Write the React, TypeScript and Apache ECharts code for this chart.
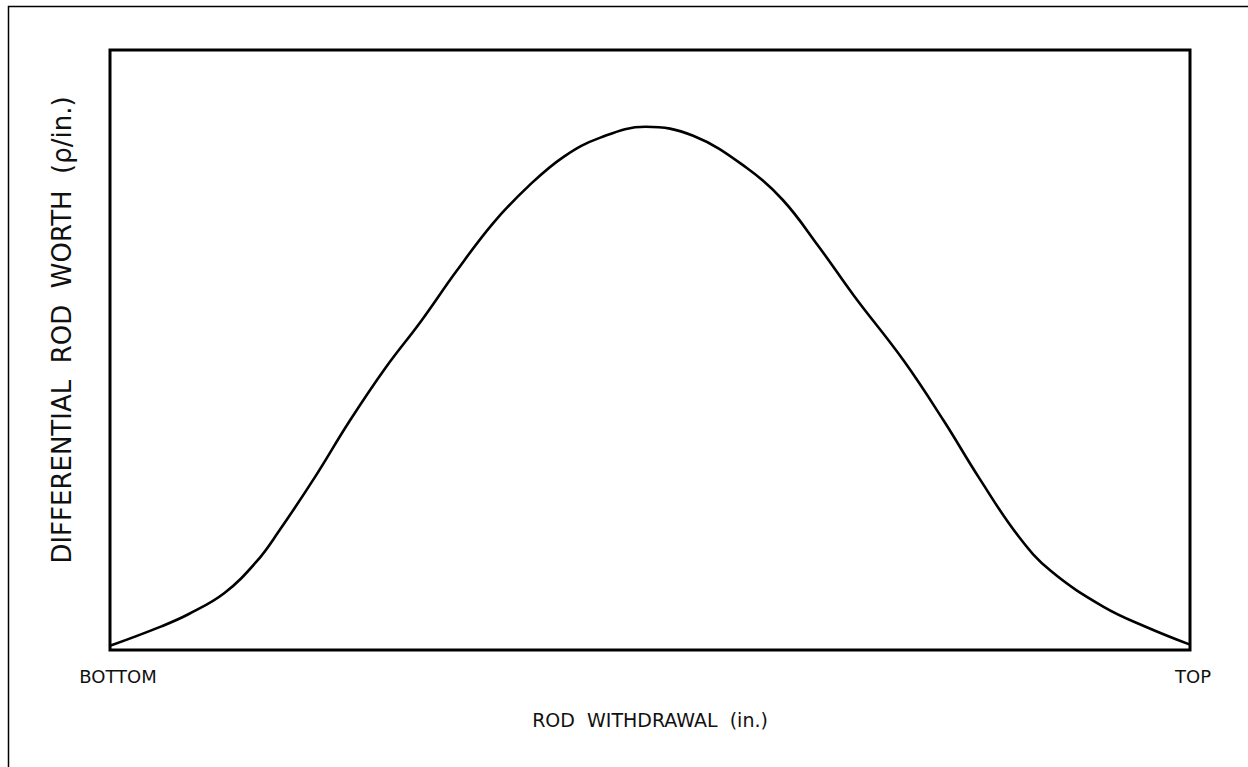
import React, { useEffect, useRef } from "react";
import * as echarts from "echarts";

// Rod position as percent of travel (0 = bottom, 100 = top)
const positions = [0, 4.7, 7.3, 10.6, 13.6, 15.6, 18.9, 22.2, 25.5, 28.8, 32.1, 35.5, 38.8, 42.0, 45.4, 49.6, 54.0, 59.0, 62.3, 65.6, 68.9, 73.5, 77.2, 80.5, 84.1, 87.1, 92.0, 96.0, 100];
// Differential rod worth (relative units)
const worth = [0.7, 3.9, 6.0, 9.5, 14.8, 19.7, 28.6, 38.2, 47.0, 54.8, 63.2, 71.2, 77.4, 82.2, 85.4, 87.2, 85.7, 80.3, 75.0, 67.3, 59.0, 48.2, 38.2, 28.6, 19.0, 13.2, 7.2, 3.8, 0.9];
const tickLabels: Record<number, string> = { 0: "BOTTOM", 100: "TOP" };
const xTitle = "ROD  WITHDRAWAL  (in.)";
const yTitle = "DIFFERENTIAL  ROD  WORTH  (\u03C1/in.)";

const FONT = "DejaVu Sans";

export default function App() {
  const ref = useRef<HTMLDivElement>(null);
  useEffect(() => {
    if (!ref.current) return;
    const chart = echarts.init(ref.current, null, { renderer: "svg" });
    chart.setOption({
      animation: false,
      backgroundColor: "#ffffff",
      grid: {
        left: 110,
        top: 50,
        width: 1080,
        height: 600,
        show: true,
        borderColor: "#000",
        borderWidth: 3,
        backgroundColor: "transparent",
      },
      xAxis: {
        type: "value",
        min: 0,
        max: 100,
        interval: 100,
        axisLine: { show: false },
        axisTick: { show: false },
        splitLine: { show: false },
        axisLabel: {
          show: true,
          margin: 17,
          color: "#111",
          fontFamily: FONT,
          fontSize: 18,
          formatter: (v: number) => {
            const t = tickLabels[v] ?? "";
            return v === 0 ? `{b|${t}}` : `{t|${t}}`;
          },
          rich: {
            b: { fontFamily: FONT, fontSize: 18, color: "#111", padding: [0, 0, 0, 16] },
            t: { fontFamily: FONT, fontSize: 18, color: "#111", padding: [0, 0, 0, 6] },
          },
        },
        name: xTitle,
        nameLocation: "middle",
        nameGap: 60,
        nameTextStyle: { color: "#111", fontFamily: FONT, fontSize: 19 },
      },
      yAxis: {
        type: "value",
        min: 0,
        max: 100,
        axisLine: { show: false },
        axisTick: { show: false },
        splitLine: { show: false },
        axisLabel: { show: false },
      },
      graphic: [
        {
          type: "rect",
          shape: { x: 8.5, y: 6.5, width: 1400, height: 1000 },
          style: { fill: "none", stroke: "#000", lineWidth: 1.5 },
          silent: true,
        },
        {
          type: "text",
          x: 62,
          y: 330,
          rotation: Math.PI / 2,
          style: {
            text: yTitle,
            fill: "#111",
            font: `26px "${FONT}"`,
            align: "center",
            verticalAlign: "middle",
          },
        },
      ],
      series: [
        {
          type: "line",
          data: positions.map((p, i) => [p, worth[i]]),
          smooth: 0.4,
          showSymbol: false,
          lineStyle: { color: "#000", width: 2.6 },
          clip: false,
        },
      ],
    });
    return () => chart.dispose();
  }, []);
  return (
    <div
      ref={ref}
      style={{ position: "fixed", left: 0, top: 0, width: 1248, height: 767, background: "#fff" }}
    />
  );
}
